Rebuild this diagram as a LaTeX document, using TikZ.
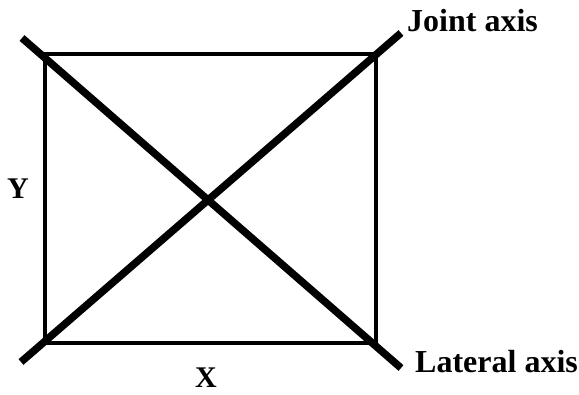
\documentclass[tikz,border=0pt]{standalone}
\usepackage{fontspec}
\setmainfont{Liberation Serif}
\begin{document}
\begin{tikzpicture}[x=1pt,y=-1pt,
  frame/.style={line width=3.6pt},
  axisline/.style={line width=7.5pt},
  biglabel/.style={font=\fontsize{32}{36}\selectfont\bfseries, inner sep=0pt},
  smalllabel/.style={font=\fontsize{30}{34}\selectfont\bfseries, inner sep=0pt}]
\useasboundingbox (0,0) rectangle (579,395);
\coordinate (tl) at (45,54);
\coordinate (tr) at (376,54);
\coordinate (bl) at (45,343);
\coordinate (br) at (376,343);
\draw[frame] (tl) -- (tr) -- (br) -- (bl) -- cycle;
\coordinate (latA) at (22,38);
\coordinate (latB) at (401,368);
\coordinate (jntA) at (21,362);
\coordinate (jntB) at (401,33);
\draw[axisline] (latA) -- (latB);
\draw[axisline] (jntA) -- (jntB);
\node[biglabel, anchor=base west] (joint) at (407,32) {Joint axis};
\node[biglabel, anchor=base west] (lateral) at (415,373) {Lateral axis};
\node[smalllabel, anchor=base] (ylab) at (18,199) {Y};
\node[smalllabel, anchor=base] (xlab) at (206,388) {X};
\end{tikzpicture}
\end{document}
